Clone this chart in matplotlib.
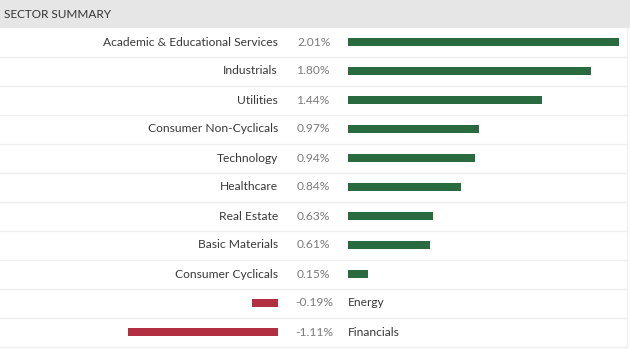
import matplotlib.pyplot as plt
from matplotlib.patches import Rectangle

plt.rcParams['font.family'] = ['Lato', 'DejaVu Sans']

# data
sectors = ["Academic & Educational Services", "Industrials", "Utilities",
           "Consumer Non-Cyclicals", "Technology", "Healthcare", "Real Estate",
           "Basic Materials", "Consumer Cyclicals", "Energy", "Financials"]
changes = [2.01, 1.80, 1.44, 0.97, 0.94, 0.84, 0.63, 0.61, 0.15, -0.19, -1.11]
title = "SECTOR SUMMARY"

GREEN = "#2a6a3f"
RED = "#b22f42"
W, H = 630, 349
top, row_h = 27.5, 29.0
px_per_pct = 134.8
fs = 8.65

fig = plt.figure(figsize=(W / 100, H / 100), dpi=100)
fig.patch.set_facecolor("white")

# background layer in pixel coords: header, separators, text
bg = fig.add_axes([0, 0, 1, 1])
bg.set_xlim(0, W)
bg.set_ylim(H, 0)
bg.axis("off")
bg.add_patch(Rectangle((0, 0), W, top, color="#e6e6e6", lw=0))
bg.text(4, top / 2 + 0.5, title, ha="left", va="center", fontsize=8.5, color="#333333")
for i in range(len(sectors)):
    y = top + (i + 1) * row_h
    bg.plot([0, 627], [y, y], color="#efefef", lw=1.0)
bg.plot([627, 627], [top, top + len(sectors) * row_h], color="#f0f0f0", lw=1)

for i, (name, val) in enumerate(zip(sectors, changes)):
    yc = top + (i + 0.5) * row_h
    if val >= 0:
        bg.text(278, yc, name, ha="right", va="center", fontsize=fs, color="#383838")
        bg.text(297, yc, f"{val:.2f}%", ha="left", va="center", fontsize=fs, color="#7a7a7a")
    else:
        bg.text(295, yc, f"{val:.2f}%", ha="left", va="center", fontsize=fs, color="#7a7a7a")
        bg.text(348, yc, name, ha="left", va="center", fontsize=fs, color="#383838")

# bar axes: positive bars start at x=348, negative end at x=278
n = len(sectors)
y0 = 1 - (top + n * row_h) / H
hgt = n * row_h / H
pos_ax = fig.add_axes([348 / W, y0, (W - 348) / W, hgt])
neg_ax = fig.add_axes([0, y0, 278 / W, hgt])
rows = list(range(n))
pos_vals = [v if v > 0 else 0 for v in changes]
neg_vals = [v if v < 0 else 0 for v in changes]
pos_ax.barh(rows, pos_vals, height=8 / row_h, color=GREEN)
neg_ax.barh(rows, neg_vals, height=8 / row_h, color=RED)
pos_ax.set_xlim(0, (W - 348) / px_per_pct)
neg_ax.set_xlim(-278 / px_per_pct, 0)
for ax in (pos_ax, neg_ax):
    ax.set_ylim(n - 0.5, -0.5)
    ax.axis("off")
    ax.patch.set_alpha(0)

fig.savefig("out.png", dpi=100)
